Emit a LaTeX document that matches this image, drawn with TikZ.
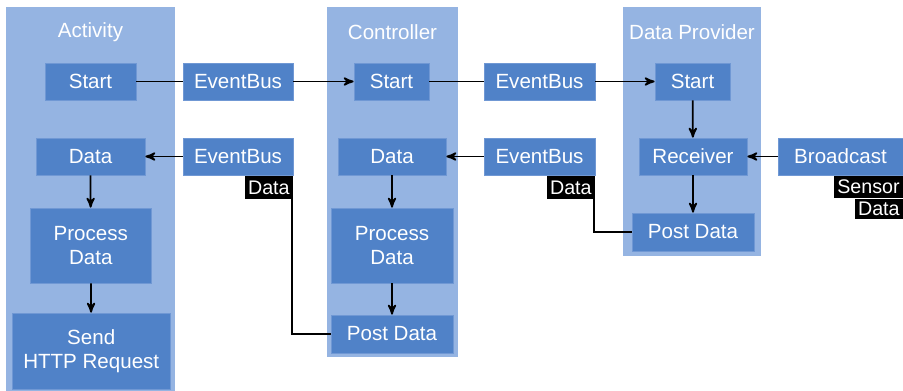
\documentclass[tikz,border=0pt]{standalone}
\usepackage{fontspec}
\setmainfont{Liberation Sans}
\usepackage{tikz}
\usetikzlibrary{arrows,positioning,calc}
\definecolor{laneblue}{RGB}{149,180,226}
\definecolor{boxblue}{RGB}{80,130,200}
\definecolor{boxedge}{RGB}{112,152,212}
\tikzset{lane/.style={fill=laneblue,draw=none,inner sep=0pt}}
\tikzset{box/.style={fill=boxblue,draw=boxedge,line width=0.4pt,text=white,inner sep=0pt,align=center,
  minimum height=0.74cm,font=\fontsize{11.7}{13.7}\selectfont}}
\tikzset{title/.style={text=white,inner sep=0pt,font=\fontsize{11.7}{13.7}\selectfont}}
\tikzset{tag/.style={fill=black,text=white,inner xsep=1.8pt,inner ysep=0pt,minimum height=0.46cm,
  font=\fontsize{11.2}{12}\selectfont}}

\begin{document}
\begin{tikzpicture}[-, >=stealth', semithick, x=0.02cm, y=-0.02cm]
\tikzstyle{every edge}=[draw=black,line width=1pt]
    \useasboundingbox (0,0) rectangle (903,391);
    % lanes
    \node[lane,minimum width=3.38cm,minimum height=7.68cm] (act) at (90.5,199) {};
    \node[lane,minimum width=2.62cm,minimum height=7.0cm] (ctl) at (392.5,182) {};
    \node[lane,minimum width=2.76cm,minimum height=4.98cm] (prv) at (692,131.5) {};
    \node[title] (actT) at (90.5,32) {Activity};
    \node[title] (ctlT) at (392.5,32) {Controller};
    \node[title] (prvT) at (692,32) {Data Provider};

    % activity
    \node[box,minimum width=1.82cm] (aStart) at (90.5,81.5) {Start};
    \node[box,minimum width=2.18cm] (aData) at (90.5,156.5) {Data};
    \node[box,minimum width=2.43cm,minimum height=1.5cm] (aProc) at (90.75,245.5) {Process\\Data};
    \node[box,minimum width=3.17cm,minimum height=1.52cm] (aSend) at (91.25,351) {Send\\HTTP Request};

    % event bus
    \node[box,minimum width=2.2cm] (ebA) at (238,81.5) {EventBus};
    \node[box,minimum width=2.2cm] (ebB) at (238,156.5) {EventBus};
    \node[tag,anchor=north east] (tagB) at (ebB.south east) {Data};
    \node[box,minimum width=2.22cm] (ebC) at (539.5,81.5) {EventBus};
    \node[box,minimum width=2.22cm] (ebD) at (539.5,156.5) {EventBus};
    \node[tag,anchor=north east] (tagD) at (ebD.south east) {Data};

    % controller
    \node[box,minimum width=1.5cm] (cStart) at (391.5,81.5) {Start};
    \node[box,minimum width=2.16cm] (cData) at (392,156.5) {Data};
    \node[box,minimum width=2.44cm,minimum height=1.5cm] (cProc) at (392,245.5) {Process\\Data};
    \node[box,minimum width=2.44cm,minimum height=0.76cm] (cPost) at (392,334) {Post Data};

    % data provider
    \node[box,minimum width=1.5cm] (pStart) at (692.5,81.5) {Start};
    \node[box,minimum width=2.16cm] (pRecv) at (693,156.5) {Receiver};
    \node[box,minimum width=2.44cm,minimum height=0.76cm] (pPost) at (693,232) {Post Data};
    \node[box,minimum width=2.5cm] (bcast) at (840.5,156.5) {Broadcast};
    \node[tag,anchor=north east,minimum height=0.44cm] (tagS) at (bcast.south east) {Sensor};
    \node[tag,anchor=north east,minimum height=0.40cm] (tagS2) at (tagS.south east) {Data};

    \path (aStart) edge (ebA);
    \path (ebA) edge[->] (cStart);
    \path (cStart) edge (ebC);
    \path (ebC) edge[->] (pStart);
    \path (pStart) edge[->] (pRecv);
    \path (bcast) edge[->] (pRecv);
    \path (pRecv) edge[->] (pPost);
    \draw[line width=1pt] (pPost.west) -| ([xshift=-0.6pt]tagD.south east);
    \path (ebD) edge[->] (cData);
    \path (cData) edge[->] (cProc);
    \path (cProc) edge[->] (cPost);
    \draw[line width=1pt] (cPost.west) -| ([xshift=-0.6pt]tagB.south east);
    \path (ebB) edge[->] (aData);
    \path (aData) edge[->] (aProc);
    \path (aProc) edge[->] (aSend);
\end{tikzpicture}
\end{document}
